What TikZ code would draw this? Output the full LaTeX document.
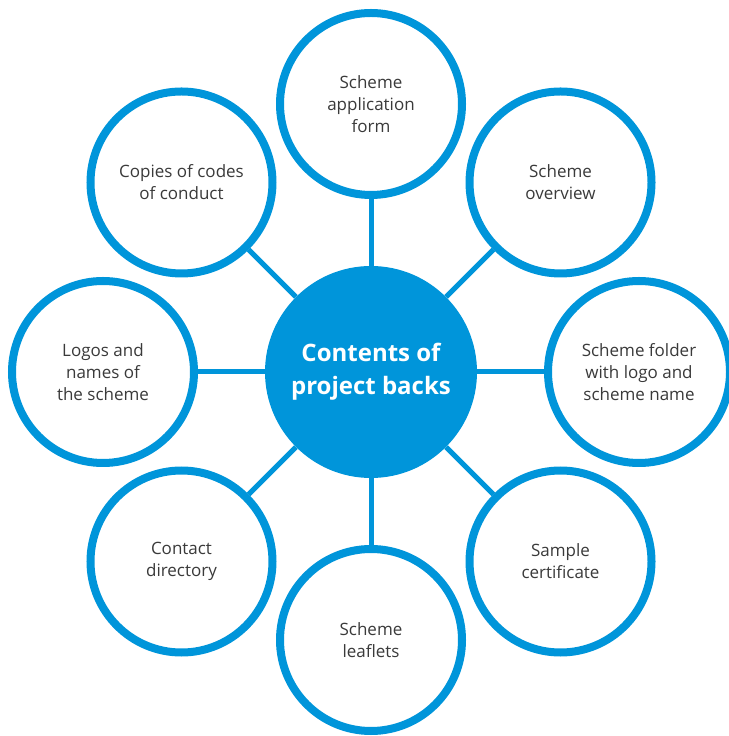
\documentclass[tikz,border=0pt]{standalone}
\usepackage{fontspec}
\setmainfont{Open Sans}
\usetikzlibrary{calc}
\definecolor{schemeblue}{HTML}{0095DA}
\definecolor{labelgrey}{HTML}{3A3A3A}
\tikzset{
  leaf/.style={circle, draw=schemeblue, line width=8pt, fill=white,
    minimum size=182pt, inner sep=0pt, align=center, text=labelgrey,
    font=\fontsize{17}{22}\selectfont},
  hub/.style={circle, fill=schemeblue, minimum size=212pt, inner sep=0pt,
    align=center, text=white, font=\fontsize{24}{33}\selectfont\bfseries},
  spoke/.style={draw=schemeblue, line width=5pt}
}
\begin{document}
\begin{tikzpicture}[x=1pt,y=1pt]
    \useasboundingbox (0,0) rectangle (728,736);
    \node[hub] (hub) at (371,364) {Contents of\\project backs};
    \node[leaf] (form) at ($(hub.center)+(90:268)$) {Scheme\\application\\form};
    \node[leaf] (overview) at ($(hub.center)+(45:268)$) {Scheme\\overview};
    \node[leaf] (folder) at ($(hub.center)+(0:268)$) {Scheme folder\\with logo and\\scheme name};
    \node[leaf] (certificate) at ($(hub.center)+(-45:268)$) {Sample\\certificate};
    \node[leaf] (leaflets) at ($(hub.center)+(-90:268)$) {Scheme\\leaflets};
    \node[leaf] (directory) at ($(hub.center)+(-135:268)$) {Contact\\directory};
    \node[leaf] (logos) at ($(hub.center)+(180:268)$) {Logos and\\names of\\the scheme};
    \node[leaf] (codes) at ($(hub.center)+(135:268)$) {Copies of codes\\of conduct};
    \foreach \n in {form,overview,folder,certificate,leaflets,directory,logos,codes}
      \draw[spoke] (hub) -- (\n);
\end{tikzpicture}
\end{document}
